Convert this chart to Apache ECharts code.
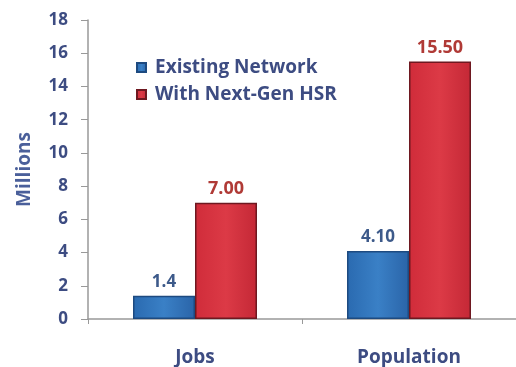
<!DOCTYPE html>
<html><head><meta charset="utf-8">
<script src="https://cdn.jsdelivr.net/npm/echarts@6/dist/echarts.min.js"></script>
<style>html,body{margin:0;padding:0;background:#fff}#c{width:516px;height:367px}</style>
</head><body><div id="c"></div>
<script>
const categories = ["Jobs", "Population"];
const existingNetwork = [1.4, 4.10];
const withNextGenHSR = [7.00, 15.50];
const existingLabels = ["1.4", "4.10"];
const hsrLabels = ["7.00", "15.50"];
const yTicks = [0, 2, 4, 6, 8, 10, 12, 14, 16, 18];

const font = "'Open Sans', sans-serif";
const textColor = "#3d4c82";
const chart = echarts.init(document.getElementById('c'), null, {renderer: 'canvas'});
chart.setOption({
  animation: false,
  backgroundColor: '#ffffff',
  grid: {left: 88, top: 20, width: 434, height: 300, containLabel: false},
  legend: {
    orient: 'vertical', left: 131, top: 53, itemGap: 8,
    itemWidth: 9, itemHeight: 9, icon: 'rect',
    textStyle: {fontFamily: font, fontWeight: 'bold', fontSize: 19, color: textColor, padding: [0, 0, 0, 4]},
    data: ["Existing Network", "With Next-Gen HSR"]
  },
  xAxis: {
    type: 'category', data: categories,
    axisLine: {lineStyle: {color: '#999', width: 1.5}},
    axisTick: {show: true, alignWithLabel: false, length: 5, lineStyle: {color: '#999'}},
    axisLabel: {fontFamily: font, fontWeight: 'bold', fontSize: 19, color: textColor, margin: 29}
  },
  yAxis: {
    type: 'value', min: 0, max: 18, interval: 2,
    name: 'Millions', nameLocation: 'middle', nameGap: 54, nameRotate: 90,
    nameTextStyle: {fontFamily: font, fontWeight: 'bold', fontSize: 19, color: '#4a5f9a'},
    axisLine: {show: true, lineStyle: {color: '#999', width: 1.5}},
    axisTick: {show: true, length: 7, inside: false, lineStyle: {color: '#999'}},
    splitLine: {show: false},
    axisLabel: {fontFamily: font, fontWeight: 'bold', fontSize: 17, color: textColor, margin: 20,
      formatter: v => yTicks.includes(v) ? String(v) : ''}
  },
  series: [
    {
      name: "Existing Network", type: 'bar', barWidth: 62, barGap: '0%',
      data: existingNetwork,
      itemStyle: {
        color: new echarts.graphic.LinearGradient(0, 0, 1, 0, [
          {offset: 0, color: '#2a6ab0'}, {offset: 0.5, color: '#3a80c6'}, {offset: 1, color: '#2a64a8'}]),
        borderColor: '#1d4a80', borderWidth: 1.5
      },
      label: {show: true, position: 'top', distance: 5,
        formatter: p => existingLabels[p.dataIndex],
        fontFamily: font, fontWeight: 'bold', fontSize: 17, color: '#3d5a8a'}
    },
    {
      name: "With Next-Gen HSR", type: 'bar', barWidth: 62,
      data: withNextGenHSR,
      itemStyle: {
        color: new echarts.graphic.LinearGradient(0, 0, 1, 0, [
          {offset: 0, color: '#d02c3a'}, {offset: 0.5, color: '#dc3a46'}, {offset: 1, color: '#c42836'}]),
        borderColor: '#6e1820', borderWidth: 1.5
      },
      label: {show: true, position: 'top', distance: 5,
        formatter: p => hsrLabels[p.dataIndex],
        fontFamily: font, fontWeight: 'bold', fontSize: 18, color: '#b03a36'}
    }
  ]
});
</script></body></html>
